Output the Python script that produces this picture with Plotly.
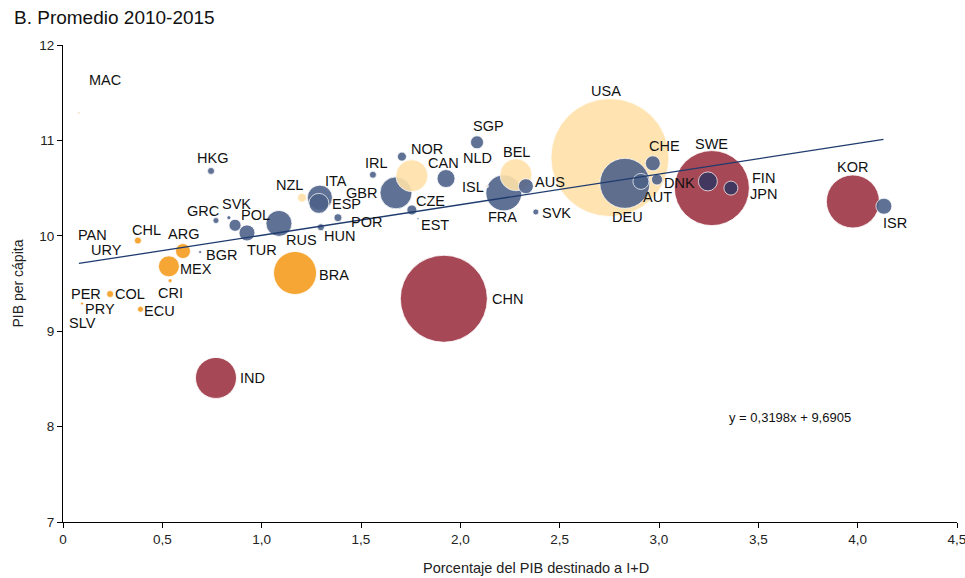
import plotly.graph_objects as go

# Datos (promedio 2010-2015)
paises = ["MAC", "HKG", "NZL", "GRC", "SVK", "POL", "TUR", "RUS", "ITA", "ESP",
          "HUN", "POR", "GBR", "IRL", "NOR", "", "CAN", "CZE", "EST", "SGP",
          "NLD", "BEL", "ISL", "FRA", "AUS", "SVK", "USA", "DEU", "AUT", "DNK",
          "CHE", "SWE", "FIN", "JPN", "KOR", "ISR", "CHN", "IND", "BRA", "MEX",
          "ARG", "CHL", "BGR", "CRI", "COL", "PRY", "ECU", "PER", "SLV", "PAN",
          "URY"]
gasto_id = [0.08, 0.745, 1.203, 0.77, 0.835, 0.866, 0.926, 1.087, 1.293, 1.288,
            1.298, 1.384, 1.676, 1.56, 1.706, 1.756, 1.928, 1.756, 1.787, 2.084,
            2.084, 2.28, 2.134, 2.219, 2.33, 2.38, 2.753, 2.828, 2.909, 2.99,
            2.969, 3.266, 3.246, 3.362, 3.976, 4.132, 1.917, 0.77, 1.168, 0.533,
            0.604, 0.377, 0.69, 0.539, 0.237, 0.096, 0.39, 0.116, 0.096, 0.146,
            0.221]
pib_pc = [11.29, 10.68, 10.40, 10.16, 10.19, 10.11, 10.03, 10.13, 10.40, 10.34,
          10.09, 10.19, 10.45, 10.64, 10.83, 10.63, 10.60, 10.27, 10.18, 10.98,
          10.82, 10.64, 10.52, 10.45, 10.52, 10.25, 10.82, 10.55, 10.57, 10.59,
          10.76, 10.50, 10.57, 10.50, 10.36, 10.31, 9.34, 8.51, 9.61, 9.68,
          9.84, 9.95, 9.83, 9.53, 9.39, 9.29, 9.23, 9.39, 9.09, 10.005,
          9.85]
tamano = [3, 7, 9, 6, 4, 12, 16, 26, 25, 20,
          7, 8, 32, 7, 9, 32, 18, 10, 2, 13,
          0, 32, 3, 36, 15, 6, 118, 50, 16, 11,
          15, 75, 19, 14, 53, 16, 87, 41, 43, 21,
          15, 7, 3, 4, 7, 3, 6, 0, 0, 0,
          0]
grupo = ["claro", "azul", "amarillo", "azul", "azul", "azul", "azul", "azul", "azul", "azul",
         "azul", "azul", "azul", "azul", "azul", "amarillo", "azul", "azul", "azul", "azul",
         "claro", "amarillo", "claro", "azul", "azul", "azul", "amarillo", "azul", "azul", "azul",
         "azul", "rojo", "oscuro", "oscuro", "rojo", "azul", "rojo", "rojo", "naranja", "naranja",
         "naranja", "naranja", "azul", "naranja", "naranja", "naranja", "naranja", "claro", "claro", "claro",
         "claro"]

# Línea de tendencia: y = 0,3198x + 9,6905 (extremos leídos)
tend_x = [0.08, 4.13]
tend_y = [9.71, 11.01]

ticks_x = [0, 0.5, 1.0, 1.5, 2.0, 2.5, 3.0, 3.5, 4.0, 4.5]
ticks_x_txt = ["0", "0,5", "1,0", "1,5", "2,0", "2,5", "3,0", "3,5", "4,0", "4,5"]
ticks_y = [7, 8, 9, 10, 11, 12]

COLORES = {
    "azul": "#4E6289",
    "naranja": "#F59D1F",
    "amarillo": "#FFE2AA",
    "rojo": "#9D3544",
    "oscuro": "#38365F",
    "claro": "#F1E4CC",
}
FUENTE = "Liberation Sans, Arial"

# desplazamiento de cada etiqueta respecto a su burbuja (px: dx, dy hacia abajo)
desp = [(26, -33), (1, -13), (-13, -13), (-13, -10), (8, -14), (20, -10), (15, 17), (23, 17), (16, -17), (28, 1),
        (19, 9), (29, 4), (-34, 0), (4, -12), (25, -8), (0, 0), (-3, -16), (19, -9), (17, 6), (11, -16),
        (0, 0), (1, -23), (-14, 1), (-1, 24), (24, -4), (21, 1), (-4, -67), (3, 34), (17, 16), (22, 3),
        (12, -17), (0, -44), (56, -3), (33, 6), (0, -34), (11, 17), (64, 0), (37, 0), (39, 2), (27, 3),
        (1, -17), (9, -11), (21, 3), (0, 12), (20, 0), (18, 5), (19, 2), (0, 0), (0, 0), (0, 0),
        (0, 0)]

orden = sorted(range(len(paises)), key=lambda i: -tamano[i])

fig = go.Figure()
fig.add_trace(go.Scatter(
    x=[gasto_id[i] for i in orden],
    y=[pib_pc[i] for i in orden],
    mode="markers",
    marker=dict(
        size=[tamano[i] for i in orden],
        color=[COLORES[grupo[i]] for i in orden],
        opacity=0.9,
        line=dict(color="white", width=0.8),
    ),
    hovertext=[paises[i] for i in orden],
    showlegend=False,
))
fig.add_trace(go.Scatter(
    x=tend_x, y=tend_y, mode="lines",
    line=dict(color="#1F3B6E", width=1.3),
    showlegend=False,
))

for i, p in enumerate(paises):
    if not p:
        continue
    dx, dy = desp[i]
    fig.add_annotation(
        x=gasto_id[i], y=pib_pc[i], text=p, showarrow=False,
        xshift=dx, yshift=-dy,
        font=dict(family=FUENTE, size=14.5, color="#111111"),
    )

fig.add_annotation(xref="paper", yref="paper", x=727 / 894, y=95 / 477, xanchor="center",
                   text="y = 0,3198x + 9,6905", showarrow=False,
                   font=dict(family=FUENTE, size=13, color="#111111"))
fig.add_annotation(xref="paper", yref="paper", x=0.529, y=-46 / 477, yanchor="middle",
                   xanchor="center", text="Porcentaje del PIB destinado a I+D", showarrow=False,
                   font=dict(family=FUENTE, size=14.5, color="#222222"))
fig.add_annotation(xref="paper", yref="paper", x=-46 / 894, y=0.5, textangle=-90,
                   xanchor="center", yanchor="middle",
                   text="PIB per cápita", showarrow=False,
                   font=dict(family=FUENTE, size=14, color="#222222"))
fig.add_annotation(xref="paper", yref="paper", x=-51 / 894, y=1.0 + 28 / 477, xanchor="left",
                   yanchor="middle", text="B. Promedio 2010-2015", showarrow=False,
                   font=dict(family=FUENTE, size=19, color="#111111"))

fig.update_layout(
    width=965, height=578,
    margin=dict(l=63, r=8, t=45, b=56),
    paper_bgcolor="white", plot_bgcolor="white",
    font=dict(family=FUENTE, size=13.5, color="#222222"),
    xaxis=dict(range=[0, 4.5], tickvals=ticks_x, ticktext=ticks_x_txt, automargin=False,
               ticklabeloverflow="allow",
               showgrid=False, zeroline=False, showline=True, linecolor="black",
               linewidth=1, ticks="outside", ticklen=5, tickcolor="black"),
    yaxis=dict(range=[7, 12], tickvals=ticks_y, showgrid=False, zeroline=False, automargin=False,
               showline=True, linecolor="black", linewidth=1, ticks="outside",
               ticklen=5, tickcolor="black"),
)

# sin el margen por defecto del <body>, el gráfico ocupa la ventana exacta
fig.write_html("out.html", config={"displayModeBar": False},
               post_script="document.body.style.margin = '0'; document.body.style.overflow = 'hidden';")
